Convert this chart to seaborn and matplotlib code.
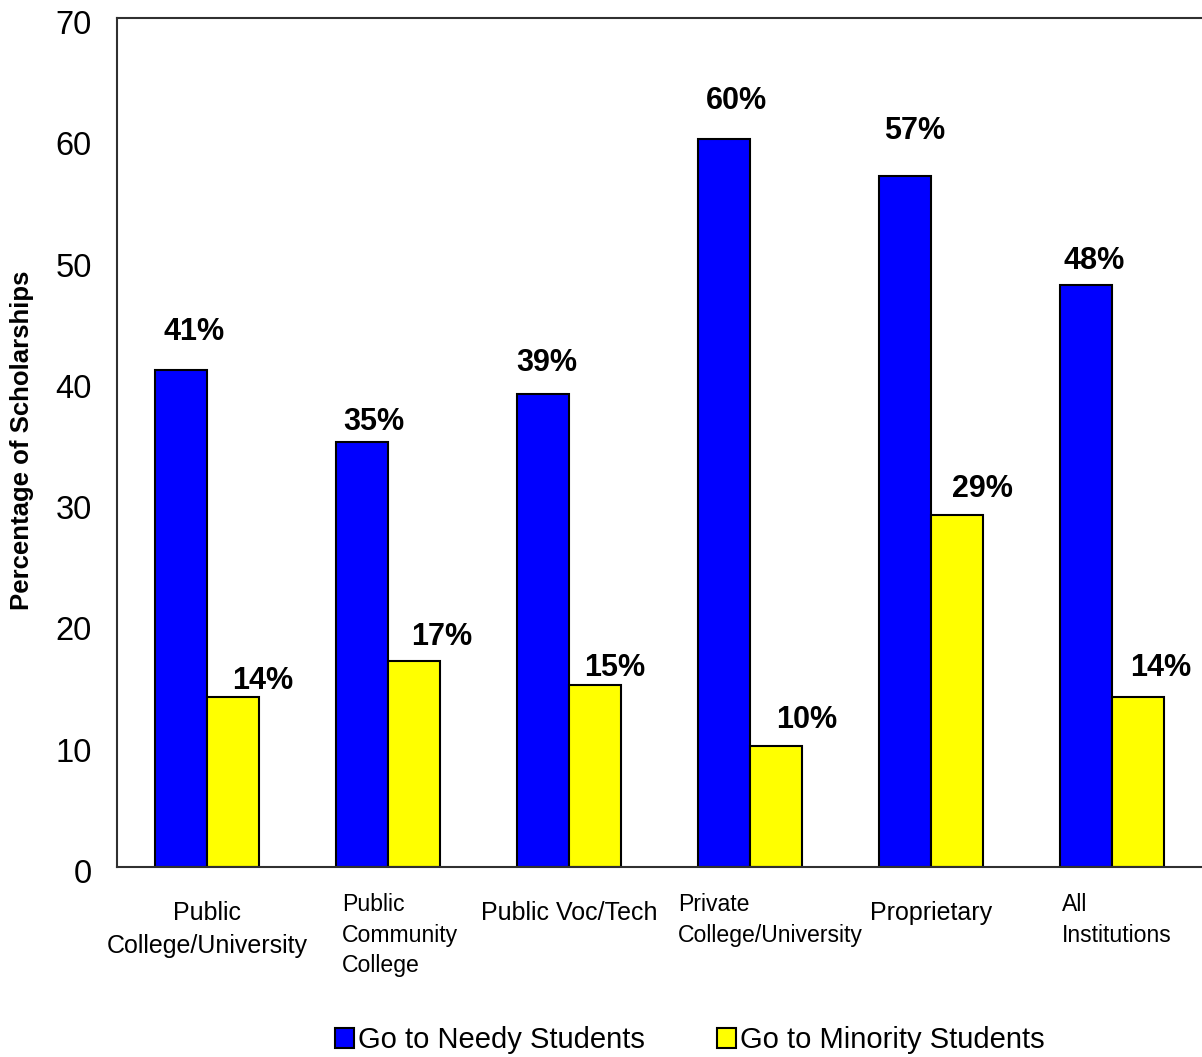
import matplotlib
matplotlib.use("Agg")
import matplotlib.pyplot as plt
import matplotlib.transforms as mtransforms
import pandas as pd
import seaborn as sns

# Chart data
categories = [
    "Public\nCollege/University",
    "Public\nCommunity\nCollege",
    "Public Voc/Tech",
    "Private\nCollege/University",
    "Proprietary",
    "All\nInstitutions",
]
series_names = ["Go to Needy Students", "Go to Minority Students"]
needy = [41, 35, 39, 60, 57, 48]
minority = [14, 17, 15, 10, 29, 14]
y_ticks = [0, 10, 20, 30, 40, 50, 60, 70]
y_label = "Percentage of Scholarships"

# Styling / layout
colors = ["#0000FF", "#FFFF00"]
label_ha = ["center", "left", "center", "left", "center", "left"]
label_dx = [0, -46, 0, -72, 0, -50]          # pixels from the tick
label_dy = [-34, -26, -34, -26, -34, -26]    # pixels below the axis
label_size = [18, 16.6, 18, 16.6, 18, 16.6]
label_spacing = [1.45, 1.42, 1.45, 1.42, 1.45, 1.42]
# value-label nudges (pixels) for each series
value_nudge = [
    [(13, 38), (12, 20), (4, 31), (13, 38), (10, 45), (9, 24)],
    [(29, 16), (27, 24), (20, 17), (31, 26), (26, 26), (23, 29)],
]

sns.set_theme(style="white")
plt.rcParams["font.family"] = ["Liberation Sans", "DejaVu Sans"]
plt.rcParams["text.color"] = "black"
plt.rcParams["xtick.color"] = "black"
plt.rcParams["ytick.color"] = "black"

df = pd.DataFrame({
    "category": categories * 2,
    "series": [series_names[0]] * len(categories) + [series_names[1]] * len(categories),
    "value": needy + minority,
})

fig = plt.figure(figsize=(12.02, 10.57), dpi=100)
ax = fig.add_axes([0.0973, 0.1798, 0.9027, 0.8032])

sns.barplot(
    data=df, x="category", y="value", hue="series", order=categories,
    hue_order=series_names, palette=colors, saturation=1, width=0.575,
    edgecolor="black", linewidth=1.5, ax=ax,
)

ax.set_xlim(-0.5, len(categories) - 0.5)
ax.set_ylim(0, 70)
ax.set_yticks(y_ticks)
ax.set_yticklabels([str(t) for t in y_ticks], fontsize=23.5)
ax.tick_params(axis="y", length=0, pad=18)
shift = mtransforms.ScaledTranslation(0, -4 / 100, fig.dpi_scale_trans)
for lbl in ax.get_yticklabels():
    lbl.set_transform(lbl.get_transform() + shift)
ax.set_xticks(range(len(categories)))
ax.set_xticklabels([])
ax.tick_params(axis="x", length=0)
ax.set_xlabel("")
ax.set_ylabel("")
ax.grid(False)

for side in ["left", "top", "bottom"]:
    ax.spines[side].set_visible(True)
    ax.spines[side].set_color("#303030")
    ax.spines[side].set_linewidth(1.5)
ax.spines["right"].set_visible(False)

# Category labels under the axis
for i, name in enumerate(categories):
    ax.annotate(
        name, xy=(i, 0), xycoords=("data", "axes fraction"),
        xytext=(label_dx[i], label_dy[i]), textcoords="offset pixels",
        ha=label_ha[i], va="top",
        multialignment="left" if label_ha[i] == "left" else "center",
        fontsize=label_size[i], linespacing=label_spacing[i],
        annotation_clip=False,
    )

# Value labels above the bars
for k, values in enumerate([needy, minority]):
    for j, bar in enumerate(ax.containers[k]):
        cx = bar.get_x() + bar.get_width() / 2
        dx, dy = value_nudge[k][j]
        ax.annotate(
            f"{values[j]}%", xy=(cx, values[j]), xycoords="data",
            xytext=(dx, dy), textcoords="offset pixels",
            ha="center", va="center", fontsize=22, fontweight="bold",
            annotation_clip=False,
        )

fig.text(22 / 1202, 1 - 440 / 1057, y_label, rotation=90, ha="center", va="center",
         fontsize=18.5, fontweight="bold")

handles, labels = ax.get_legend_handles_labels()
if ax.get_legend() is not None:
    ax.get_legend().remove()
fig.legend(
    handles, labels, loc="center", bbox_to_anchor=(0.574, 0.016), ncol=2,
    frameon=False, fontsize=21, handlelength=0.65, handleheight=0.7,
    handletextpad=0.15, columnspacing=2.45, borderpad=0,
)

fig.savefig("out.png", dpi=100)
